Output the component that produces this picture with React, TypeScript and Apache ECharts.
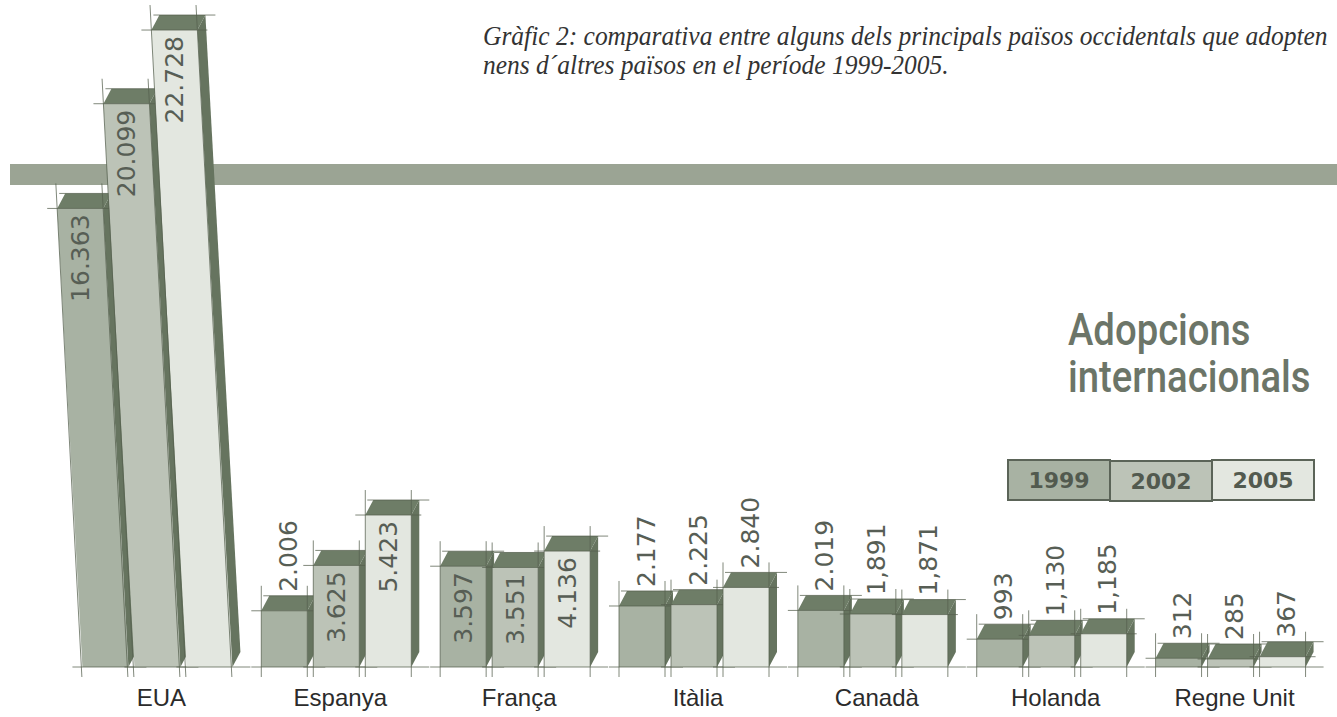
import React, { useEffect, useRef } from "react";
import * as echarts from "echarts";

// ---- data ----
const categories = ["EUA", "Espanya", "França", "Itàlia", "Canadà", "Holanda", "Regne Unit"];
const years = ["1999", "2002", "2005"];
const values1999 = [16363, 2006, 3597, 2177, 2019, 993, 312];
const values2002 = [20099, 3625, 3551, 2225, 1891, 1130, 285];
const values2005 = [22728, 5423, 4136, 2840, 1871, 1185, 367];
const labels1999 = ["16.363", "2.006", "3.597", "2.177", "2.019", "993", "312"];
const labels2002 = ["20.099", "3.625", "3.551", "2.225", "1,891", "1,130", "285"];
const labels2005 = ["22.728", "5.423", "4.136", "2.840", "1,871", "1,185", "367"];
const titleLines = [
  "Gràfic 2: comparativa entre alguns dels principals països occidentals que adopten",
  "nens d´altres països en el període 1999-2005.",
];
const headingLines = ["Adopcions", "internacionals"];

// ---- styles ----
const FRONT = ["#a8b2a3", "#bcc3b7", "#e3e7e0"];
const TOP_FACE = "#6e7d67";
const SIDE_FACE = "#66745f";
const DRAFT = "#56604f";
const LABEL_COLOR = "#575e55";
const BAR_W = 46;
const PITCH = 52;
const DX = 8;
const DY = 15;

function makeRender(seriesIdx: number, labels: string[]) {
  return (params: any, api: any) => {
    const cat = api.value(0);
    const val = api.value(1);
    const top = api.coord([cat, val]);
    const base = api.coord([cat, 0]);
    const cx = top[0];
    const yTop = top[1];
    const yBase = base[1];
    const groupW = 2 * PITCH + BAR_W + DX;
    const x0 = cx - groupW / 2 + seriesIdx * PITCH;
    const x1 = x0 + BAR_W;
    const h = yBase - yTop;
    const shear = h > 300 ? 0.055 : 0;
    const sx = (y: number) => -(yBase - y) * shear;
    const ftl = [x0 + sx(yTop), yTop];
    const ftr = [x1 + sx(yTop), yTop];
    const fbl = [x0, yBase];
    const fbr = [x1, yBase];
    const btl = [ftl[0] + DX, yTop - DY];
    const btr = [ftr[0] + DX, yTop - DY];
    const bbr = [x1 + DX, yBase - DY];
    const lineStyle = { stroke: DRAFT, lineWidth: 1, opacity: 0.75 };
    const ext = 10;
    const children: any[] = [
      { type: "polygon", shape: { points: [fbl, ftl, ftr, fbr] }, style: { fill: FRONT[seriesIdx] } },
      { type: "polygon", shape: { points: [fbr, ftr, btr, bbr] }, style: { fill: SIDE_FACE } },
      { type: "polygon", shape: { points: [ftl, btl, btr, ftr] }, style: { fill: TOP_FACE } },
      { type: "line", shape: { x1: x0 - ext, y1: yBase, x2: x1 + DX + ext, y2: yBase }, style: lineStyle },
      { type: "line", shape: { x1: x0 + shear * -ext, y1: yBase + ext, x2: ftl[0] + sx(yTop - DY - ext) - sx(yTop), y2: yTop - DY - ext }, style: lineStyle },
      { type: "line", shape: { x1: x1 + shear * -ext, y1: yBase + ext, x2: ftr[0] + sx(yTop - DY - ext) - sx(yTop), y2: yTop - DY - ext }, style: lineStyle },
      { type: "line", shape: { x1: ftl[0] - ext, y1: yTop, x2: ftr[0] + ext, y2: yTop }, style: lineStyle },
      { type: "line", shape: { x1: btl[0] - 6, y1: yTop - DY, x2: btr[0] + ext, y2: yTop - DY }, style: lineStyle },
    ];
    const inside = h >= 90;
    const lx = inside ? (ftl[0] + ftr[0]) / 2 : (ftl[0] + ftr[0]) / 2 + DX / 2;
    const ly = inside ? yTop + 6 : yTop - DY - 4;
    children.push({
      type: "text",
      x: lx,
      y: ly,
      rotation: Math.PI / 2,
      style: {
        text: labels[params.dataIndex],
        x: 0,
        y: 0,
        align: inside ? "right" : "left",
        verticalAlign: "middle",
        fill: LABEL_COLOR,
        fontSize: 25,
        fontFamily: "DejaVu Sans",
      },
    });
    return { type: "group", children };
  };
}

export default function App() {
  const ref = useRef<HTMLDivElement>(null);
  useEffect(() => {
    if (!ref.current) return;
    const chart = echarts.init(ref.current, null, { renderer: "svg" });
    const seriesValues = [values1999, values2002, values2005];
    const seriesLabels = [labels1999, labels2002, labels2005];

    const legendItems: any[] = [];
    years.forEach((y, i) => {
      const lx = 1008 + i * 102;
      const ly = i === 1 ? 461 : 460;
      legendItems.push({
        type: "rect",
        shape: { x: lx, y: ly, width: 102, height: 40 },
        style: { fill: FRONT[i], stroke: "#5b6458", lineWidth: 2 },
        z: 10,
      });
      legendItems.push({
        type: "text",
        x: lx + 51,
        y: ly + 20,
        style: {
          text: y,
          align: "center",
          verticalAlign: "middle",
          fill: "#525a4f",
          fontSize: 22,
          fontWeight: "bold",
          fontFamily: "DejaVu Sans",
        },
        z: 11,
      });
    });

    chart.setOption({
      animation: false,
      backgroundColor: "#ffffff",
      grid: { left: 72, right: 13, top: 0, bottom: 50 },
      xAxis: {
        type: "category",
        data: categories,
        axisLine: { show: false },
        axisTick: { show: false },
        axisLabel: { fontSize: 24, color: "#2b2b2b", fontFamily: "Liberation Sans", margin: 18 },
      },
      yAxis: { type: "value", min: 0, max: 23800, show: false },
      graphic: [
        {
          type: "rect",
          shape: { x: 10, y: 164, width: 1327, height: 21 },
          style: { fill: "#9ba494" },
          z: 0,
        },
        ...titleLines.map((t, i) => ({
          type: "text",
          x: 483,
          y: 36 + i * 29,
          scaleX: 0.945,
          style: {
            text: t,
            verticalAlign: "middle",
            fill: "#333333",
            fontSize: 27,
            fontStyle: "italic",
            fontFamily: "Liberation Serif",
          },
          z: 10,
        })),
        ...headingLines.map((t, i) => ({
          type: "text",
          x: 1068,
          y: 330 + i * 47,
          scaleX: 0.87,
          style: {
            text: t,
            verticalAlign: "middle",
            fill: "#6c7568",
            fontSize: 44,
            fontWeight: 500,
            fontFamily: "Roboto",
          },
          z: 10,
        })),
        ...legendItems,
      ],
      series: years.map((y, s) => ({
        type: "custom",
        name: y,
        z: 5,
        renderItem: makeRender(s, seriesLabels[s]),
        encode: { x: 0, y: 1 },
        data: categories.map((_, i) => [i, seriesValues[s][i]]),
      })),
    });
    return () => chart.dispose();
  }, []);
  return (
    <div
      ref={ref}
      style={{ position: "fixed", left: 0, top: 0, width: "1337px", height: "717px" }}
    />
  );
}
